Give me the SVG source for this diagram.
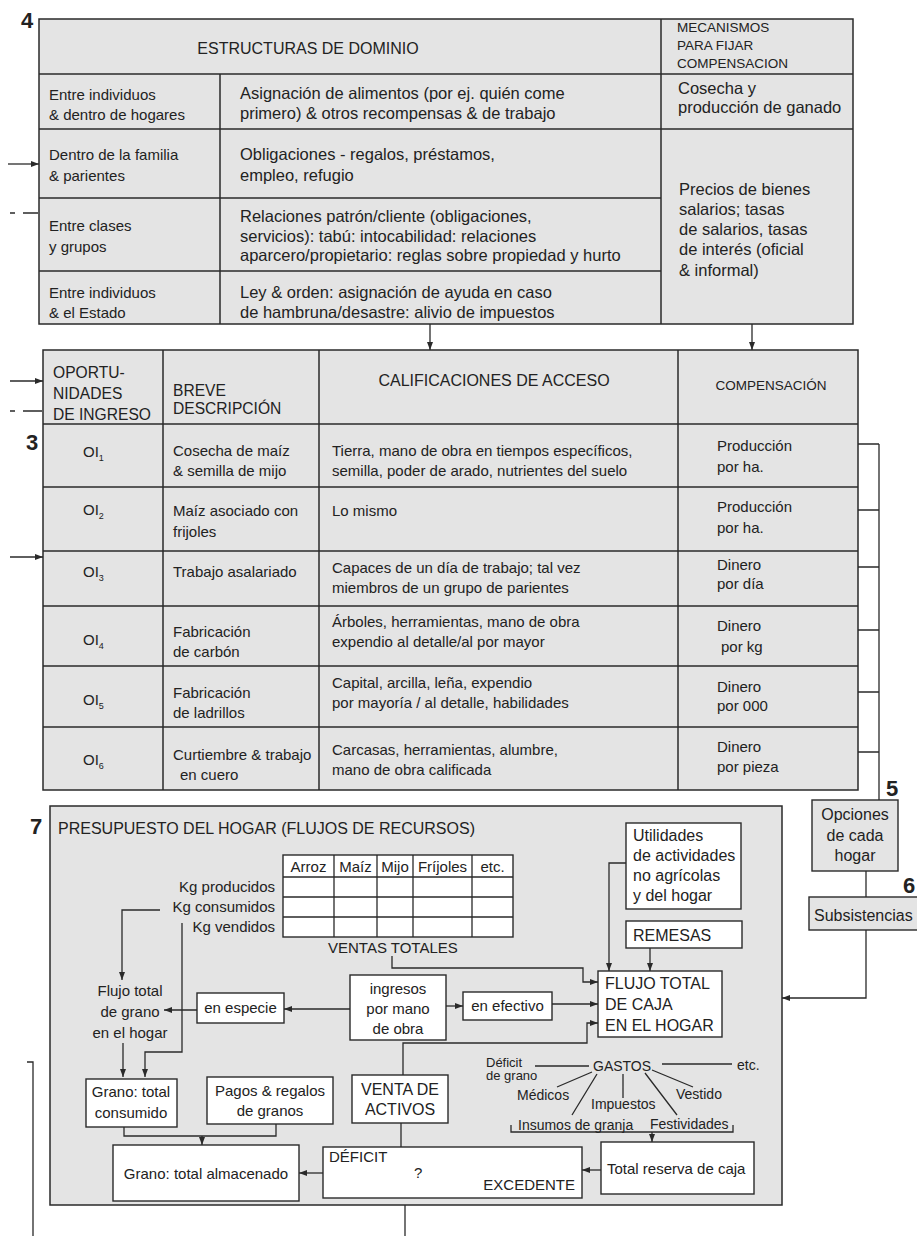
<svg xmlns="http://www.w3.org/2000/svg" width="917" height="1236" viewBox="0 0 917 1236">
<style>
.bg{fill:#fff}
.tbl{fill:#e4e4e4;stroke:#2a2a2a;stroke-width:1.5}
.box{fill:#fff;stroke:#2a2a2a;stroke-width:1.4}
.gbox{fill:#e4e4e4;stroke:#2a2a2a;stroke-width:1.4}
.ln{stroke:#2a2a2a;stroke-width:1.3;fill:none}
.gl{stroke:#2a2a2a;stroke-width:1.5;fill:none}
.ar{stroke:#2a2a2a;stroke-width:1.3;fill:none;marker-end:url(#ah)}
.t{font-family:"Liberation Sans",Arial,Helvetica,sans-serif;font-size:15px;fill:#222}
.s{font-size:13.5px}
.xs{font-size:13px}
.m{font-size:14px}
.l{font-size:16px}
.xl{font-size:16.5px}
.h{font-size:15.6px}
.c{text-anchor:middle}
.e{text-anchor:end}
.num{font-family:"Liberation Sans",Arial,sans-serif;font-weight:bold;font-size:22px;fill:#222}
</style>
<defs>
<marker id="ah" markerWidth="8" markerHeight="6" refX="8" refY="3" orient="auto" markerUnits="userSpaceOnUse">
<path d="M0,0 L8,3 L0,6 z" fill="#2a2a2a"/>
</marker>
</defs>
<rect class="bg" x="0" y="0" width="917" height="1236"/>

<g id="label-4"><text class="num" x="21" y="28">4</text></g>
<g id="label-3"><text class="num" x="26" y="450">3</text></g>
<g id="label-5"><text class="num" x="886" y="796">5</text></g>
<g id="label-6"><text class="num" x="903" y="893">6</text></g>
<g id="label-7"><text class="num" x="30" y="834">7</text></g>

<g id="estructuras-de-dominio">
<rect class="tbl" x="39" y="19" width="814" height="305"/>
<path class="gl" d="M39,74 H853 M39,129 H853 M39,198 H661 M39,271 H661 M220,74 V324 M661,19 V324"/>
<text class="t l c" x="308" y="54">ESTRUCTURAS DE DOMINIO</text>
<text class="t s" x="677" y="32">MECANISMOS</text>
<text class="t s" x="677" y="50">PARA FIJAR</text>
<text class="t s" x="677" y="68">COMPENSACION</text>
<text class="t" x="49" y="100">Entre individuos</text>
<text class="t" x="49" y="120">&amp; dentro de hogares</text>
<text class="t xl" x="240" y="99">Asignación de alimentos (por ej. quién come</text>
<text class="t xl" x="240" y="119">primero) &amp; otros recompensas &amp; de trabajo</text>
<text class="t xl" x="678" y="94">Cosecha y</text>
<text class="t xl" x="678" y="113">producción de ganado</text>
<text class="t" x="49" y="160">Dentro de la familia</text>
<text class="t" x="49" y="181">&amp; parientes</text>
<text class="t xl" x="240" y="160">Obligaciones - regalos, préstamos,</text>
<text class="t xl" x="240" y="181">empleo, refugio</text>
<text class="t" x="49" y="231">Entre clases</text>
<text class="t" x="49" y="252">y grupos</text>
<text class="t xl" x="240" y="222">Relaciones patrón/cliente (obligaciones,</text>
<text class="t xl" x="240" y="242">servicios): tabú: intocabilidad: relaciones</text>
<text class="t xl" x="240" y="261">aparcero/propietario: reglas sobre propiedad y hurto</text>
<text class="t" x="49" y="298">Entre individuos</text>
<text class="t" x="49" y="318">&amp; el Estado</text>
<text class="t xl" x="240" y="298">Ley &amp; orden: asignación de ayuda en caso</text>
<text class="t xl" x="240" y="318">de hambruna/desastre: alivio de impuestos</text>
<text class="t xl" x="679" y="195">Precios de bienes</text>
<text class="t xl" x="679" y="215">salarios; tasas</text>
<text class="t xl" x="679" y="235">de salarios, tasas</text>
<text class="t xl" x="679" y="255">de interés (oficial</text>
<text class="t xl" x="679" y="276">&amp; informal)</text>
</g>

<g id="oportunidades-de-ingreso">
<rect class="tbl" x="43" y="350" width="815" height="440"/>
<path class="gl" d="M43,424 H858 M43,487 H858 M43,551 H858 M43,606 H858 M43,666 H858 M43,727 H858 M163,350 V790 M319,350 V790 M678,350 V790"/>
<text class="t h" x="53" y="378">OPORTU-</text>
<text class="t h" x="53" y="399">NIDADES</text>
<text class="t h" x="53" y="420">DE INGRESO</text>
<text class="t h" x="173" y="396">BREVE</text>
<text class="t h" x="173" y="414">DESCRIPCIÓN</text>
<text class="t l c" x="494" y="386">CALIFICACIONES DE ACCESO</text>
<text class="t s c" x="771" y="390">COMPENSACIÓN</text>

<text class="t" x="83" y="457">OI<tspan font-size="9" dy="4">1</tspan></text>
<text class="t" x="173" y="456">Cosecha de maíz</text>
<text class="t" x="173" y="476">&amp; semilla de mijo</text>
<text class="t" x="332" y="456">Tierra, mano de obra en tiempos específicos,</text>
<text class="t" x="332" y="476">semilla, poder de arado, nutrientes del suelo</text>
<text class="t" x="717" y="451">Producción</text>
<text class="t" x="717" y="472">por ha.</text>

<text class="t" x="83" y="515">OI<tspan font-size="9" dy="4">2</tspan></text>
<text class="t" x="173" y="516">Maíz asociado con</text>
<text class="t" x="173" y="537">frijoles</text>
<text class="t" x="332" y="516">Lo mismo</text>
<text class="t" x="717" y="512">Producción</text>
<text class="t" x="717" y="533">por ha.</text>

<text class="t" x="83" y="577">OI<tspan font-size="9" dy="4">3</tspan></text>
<text class="t" x="173" y="577">Trabajo asalariado</text>
<text class="t" x="332" y="573">Capaces de un día de trabajo; tal vez</text>
<text class="t" x="332" y="593">miembros de un grupo de parientes</text>
<text class="t" x="717" y="570">Dinero</text>
<text class="t" x="717" y="589">por día</text>

<text class="t" x="83" y="645">OI<tspan font-size="9" dy="4">4</tspan></text>
<text class="t" x="173" y="637">Fabricación</text>
<text class="t" x="173" y="657">de carbón</text>
<text class="t" x="332" y="627">Árboles, herramientas, mano de obra</text>
<text class="t" x="332" y="647">expendio al detalle/al por mayor</text>
<text class="t" x="717" y="631">Dinero</text>
<text class="t" x="721" y="652">por kg</text>

<text class="t" x="83" y="705">OI<tspan font-size="9" dy="4">5</tspan></text>
<text class="t" x="173" y="698">Fabricación</text>
<text class="t" x="173" y="718">de ladrillos</text>
<text class="t" x="332" y="688">Capital, arcilla, leña, expendio</text>
<text class="t" x="332" y="708">por mayoría / al detalle, habilidades</text>
<text class="t" x="717" y="692">Dinero</text>
<text class="t" x="717" y="711">por 000</text>

<text class="t" x="83" y="765">OI<tspan font-size="9" dy="4">6</tspan></text>
<text class="t" x="173" y="760">Curtiembre &amp; trabajo</text>
<text class="t" x="180" y="780">en cuero</text>
<text class="t" x="332" y="755">Carcasas, herramientas, alumbre,</text>
<text class="t" x="332" y="775">mano de obra calificada</text>
<text class="t" x="717" y="752">Dinero</text>
<text class="t" x="717" y="772">por pieza</text>
</g>

<g id="opciones-de-cada-hogar">
<rect class="gbox" x="812" y="800" width="86" height="71"/>
<text class="t l c" x="855" y="820">Opciones</text>
<text class="t l c" x="855" y="841">de cada</text>
<text class="t l c" x="855" y="861">hogar</text>
</g>

<g id="subsistencias">
<rect class="gbox" x="809" y="897" width="120" height="33"/>
<text class="t l" x="814" y="921">Subsistencias</text>
</g>

<g id="presupuesto-del-hogar">
<rect class="tbl" x="50" y="806" width="732" height="399"/>
<text class="t l" x="58" y="834">PRESUPUESTO DEL HOGAR (FLUJOS DE RECURSOS)</text>
</g>

<g id="tabla-granos">
<rect class="box" x="283" y="855" width="230" height="82"/>
<path class="ln" d="M283,877 H513 M283,897 H513 M283,917 H513 M334,855 V937 M377,855 V937 M413,855 V937 M472,855 V937"/>
<text class="t c" x="308.5" y="872">Arroz</text>
<text class="t c" x="355.5" y="872">Maíz</text>
<text class="t c" x="395" y="872">Mijo</text>
<text class="t c" x="442.5" y="872">Fríjoles</text>
<text class="t c" x="492.5" y="872">etc.</text>
<text class="t e" x="275" y="892">Kg producidos</text>
<text class="t e" x="275" y="912">Kg consumidos</text>
<text class="t e" x="275" y="932">Kg vendidos</text>
<text class="t" x="328" y="953">VENTAS TOTALES</text>
</g>

<g id="flujo-total-grano">
<text class="t c" x="130" y="996">Flujo total</text>
<text class="t c" x="130" y="1017">de grano</text>
<text class="t c" x="130" y="1038">en el hogar</text>
</g>

<g id="utilidades">
<rect class="box" x="626" y="823" width="115" height="86"/>
<text class="t l" x="633" y="841">Utilidades</text>
<text class="t l" x="633" y="861">de actividades</text>
<text class="t l" x="633" y="881">no agrícolas</text>
<text class="t l" x="633" y="901">y del hogar</text>
</g>

<g id="remesas">
<rect class="box" x="626" y="921" width="116" height="27"/>
<text class="t l" x="633" y="941">REMESAS</text>
</g>

<g id="flujo-total-caja">
<rect class="box" x="598" y="971" width="124" height="66"/>
<text class="t l" x="605" y="989">FLUJO TOTAL</text>
<text class="t l" x="605" y="1010">DE CAJA</text>
<text class="t l" x="605" y="1031">EN EL HOGAR</text>
</g>

<g id="ingresos-mano-obra">
<rect class="box" x="350" y="975" width="96" height="65"/>
<text class="t c" x="398" y="994">ingresos</text>
<text class="t c" x="398" y="1014">por mano</text>
<text class="t c" x="398" y="1034">de obra</text>
</g>

<g id="en-especie">
<rect class="box" x="197" y="993" width="87" height="30"/>
<text class="t c" x="240.5" y="1013">en especie</text>
</g>

<g id="en-efectivo">
<rect class="box" x="463" y="992" width="89" height="28"/>
<text class="t c" x="507.5" y="1011">en efectivo</text>
</g>

<g id="grano-consumido">
<rect class="box" x="86" y="1079" width="91" height="48"/>
<text class="t c" x="131" y="1097">Grano: total</text>
<text class="t c" x="131" y="1118">consumido</text>
</g>

<g id="pagos-regalos">
<rect class="box" x="207" y="1077" width="126" height="47"/>
<text class="t c" x="270" y="1096">Pagos &amp; regalos</text>
<text class="t c" x="270" y="1116">de granos</text>
</g>

<g id="venta-activos">
<rect class="box" x="352" y="1075" width="96" height="48"/>
<text class="t l c" x="400" y="1095">VENTA DE</text>
<text class="t l c" x="400" y="1115">ACTIVOS</text>
</g>

<g id="grano-almacenado">
<rect class="box" x="113" y="1145" width="186" height="56"/>
<text class="t c" x="206" y="1179">Grano: total almacenado</text>
</g>

<g id="deficit-excedente">
<rect class="box" x="323" y="1147" width="259" height="51"/>
<text class="t" x="329" y="1162">DÉFICIT</text>
<text class="t" x="414" y="1178">?</text>
<text class="t e" x="575" y="1190">EXCEDENTE</text>
</g>

<g id="total-reserva-caja">
<rect class="box" x="601" y="1142" width="153" height="52"/>
<text class="t" x="607" y="1174">Total reserva de caja</text>
</g>

<g id="gastos">
<text class="t xs" x="486" y="1067">Déficit</text>
<text class="t xs" x="486" y="1080">de grano</text>
<text class="t m" x="593" y="1071">GASTOS</text>
<text class="t m" x="737" y="1070">etc.</text>
<text class="t m" x="517" y="1100">Médicos</text>
<text class="t m" x="591" y="1109">Impuestos</text>
<text class="t m" x="676" y="1099">Vestido</text>
<text class="t m" x="518" y="1130">Insumos de granja</text>
<text class="t m" x="650" y="1129">Festividades</text>
</g>

<g id="connectors">
<path class="ar" d="M430,324 V350"/>
<path class="ar" d="M752,324 V350"/>
<path class="ar" d="M8,164 H39"/>
<path class="ln" d="M10,213 H15 M23,213 H38"/>
<path class="ar" d="M10,381 H43"/>
<path class="ln" d="M10,411 H15 M23,411 H42"/>
<path class="ar" d="M10,557 H43"/>
<path class="ln" d="M858,444 H879 M858,510 H879 M858,567 H879 M858,630 H879 M858,692 H879 M858,752 H879 M879,444 V800"/>
<path class="ln" d="M866,871 V897"/>
<path class="ar" d="M866,930 V998 H782"/>
<path class="ar" d="M160,910 H122 V980"/>
<path class="ar" d="M182,923 V1052 H145 V1077"/>
<path class="ar" d="M123,1043 V1077"/>
<path class="ar" d="M197,1010 H164"/>
<path class="ar" d="M350,1009 H284"/>
<path class="ar" d="M446,1006 H463"/>
<path class="ar" d="M552,1004 H598"/>
<path class="ar" d="M392,956 V968 H583 V982 H598"/>
<path class="ar" d="M626,863 H609 V971"/>
<path class="ar" d="M650,948 V971"/>
<path class="ar" d="M403,1075 V1043 H587 V1023 H598"/>
<path class="ln" d="M401,1123 V1147"/>
<path class="ln" d="M124,1127 V1136 H276 V1124"/>
<path class="ar" d="M202,1136 V1145"/>
<path class="ar" d="M323,1173 H299"/>
<path class="ar" d="M601,1170 H582"/>
<path class="ln" d="M535,1066 H589 M662,1064 H732 M592,1072 L557,1087 M623,1074 V1098 M597,1074 L572,1115 M645,1073 L677,1115 M652,1070 L693,1087"/>
<path class="ln" d="M511,1125 V1132 H733 V1125"/>
<path class="ar" d="M652,1132 V1142"/>
<path class="ln" d="M405,1205 V1236"/>
<path class="ln" d="M27,1062 H33 V1236"/>
</g>
</svg>
